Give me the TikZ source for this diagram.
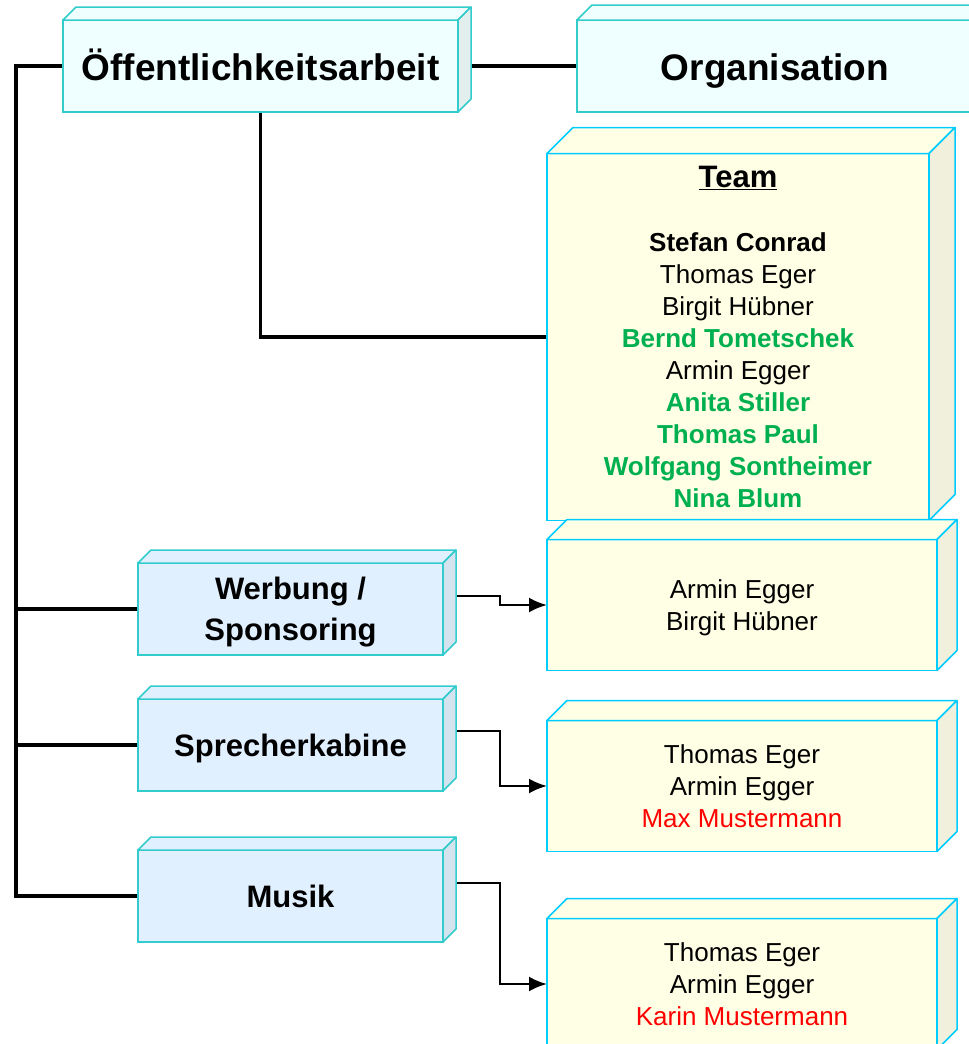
\documentclass[tikz,border=0pt]{standalone}
\usepackage{fontspec}
\setmainfont{Liberation Sans}
\usepackage{tikz}
\usetikzlibrary{arrows.meta, calc, backgrounds}
\definecolor{PaleCyan}{HTML}{EFFFFF}
\definecolor{PaleCyanSide}{HTML}{E3EFEF}
\definecolor{PaleBlue}{HTML}{E1F0FF}
\definecolor{PaleBlueSide}{HTML}{D5E3EF}
\definecolor{PaleCream}{HTML}{FFFFE5}
\definecolor{PaleCreamSide}{HTML}{F0F0DD}
\definecolor{TealEdge}{HTML}{33CCCC}
\definecolor{SkyEdge}{HTML}{00CCFF}
\definecolor{NameGreen}{HTML}{00B050}
\definecolor{NameRed}{HTML}{FF0000}

\begin{document}
\begin{tikzpicture}[
    x=1pt, y=-1pt,
    unit/.style={rectangle, draw=TealEdge, line width=1.5pt, fill=PaleCyan, inner sep=0pt, outer sep=0pt,
                 minimum height=92pt, align=center, font=\fontsize{37}{44}\selectfont\bfseries},
    task/.style={unit, fill=PaleBlue, minimum width=305pt, font=\fontsize{31}{41}\selectfont\bfseries},
    oneline/.style={text height=#1, text depth=6pt},
    people/.style={rectangle, draw=SkyEdge, line width=1.5pt, fill=PaleCream, inner sep=0pt, outer sep=0pt,
                   minimum width=390pt, minimum height=131pt, align=center, font=\fontsize{26}{32}\selectfont},
    link/.style={line width=3.5pt},
    feed/.style={line width=2.5pt, -{Latex[length=18pt,width=15pt]}}
]
    \useasboundingbox (0,0) rectangle (969,1044);
    \clip (0,0) rectangle (969,1044);
    \node[unit, oneline=34pt, minimum width=395pt] (oeff) at (260.5,66) {Öffentlichkeitsarbeit};
    \node[unit, oneline=34pt, minimum width=396pt] (orga) at (775,66) {Organisation};
    \node[people, minimum width=382pt, minimum height=367pt] (team) at (738,337)
        {{\fontsize{31}{37}\selectfont\bfseries\underline{Team}}\\[32pt]
         \textbf{Stefan Conrad}\\ Thomas Eger\\ Birgit Hübner\\
         \textcolor{NameGreen}{\textbf{Bernd Tometschek}}\\ Armin Egger\\
         \textcolor{NameGreen}{\textbf{Anita Stiller}}\\
         \textcolor{NameGreen}{\textbf{Thomas Paul}}\\
         \textcolor{NameGreen}{\textbf{Wolfgang Sontheimer}}\\
         \textcolor{NameGreen}{\textbf{Nina Blum}}};
    \node[task, text depth=-4pt] (werb) at (290.5,609) {Werbung /\\ Sponsoring};
    \node[task, oneline=28pt] (sprech) at (290.5,745) {Sprecherkabine};
    \node[task, oneline=28pt] (musik) at (290.5,896) {Musik};
    \node[people, text depth=0pt] (wname) at (742,605) {Armin Egger\\ Birgit Hübner};
    \node[people] (sname) at (742,786) {Thomas Eger\\ Armin Egger\\ \textcolor{NameRed}{Max Mustermann}};
    \node[people] (mname) at (742,984) {Thomas Eger\\ Armin Egger\\ \textcolor{NameRed}{Karin Mustermann}};

    % depth of the boxes
    \foreach \n/\d/\f/\s/\e in {oeff/13/PaleCyan/PaleCyanSide/TealEdge, orga/15/PaleCyan/PaleCyanSide/TealEdge,
                                team/26/PaleCream/PaleCreamSide/SkyEdge, werb/13/PaleBlue/PaleBlueSide/TealEdge,
                                sprech/13/PaleBlue/PaleBlueSide/TealEdge, musik/13/PaleBlue/PaleBlueSide/TealEdge,
                                wname/20/PaleCream/PaleCreamSide/SkyEdge, sname/20/PaleCream/PaleCreamSide/SkyEdge,
                                mname/20/PaleCream/PaleCreamSide/SkyEdge} {
        \filldraw[fill=\f, draw=\e, line width=1.5pt, line join=round]
            (\n.north west) -- ++(\d,-\d) -- ($(\n.north east)+(\d,-\d)$) -- (\n.north east) -- cycle;
        \filldraw[fill=\s, draw=\e, line width=1.5pt, line join=round]
            (\n.north east) -- ++(\d,-\d) -- ($(\n.south east)+(\d,-\d)$) -- (\n.south east) -- cycle;
    }

    \begin{scope}[on background layer]
        \coordinate (trunk) at (16,66);
        \draw[link] (oeff.west) -- (trunk) |- (musik.west);
        \draw[link] (werb.west) -- (werb.west -| trunk);
        \draw[link] (sprech.west) -- (sprech.west -| trunk);
        \draw[link] (oeff.east) -- (orga.west);
        \draw[link] (oeff.south) |- (team.west);
        \draw[feed] ([yshift=13pt]werb.east) -- ++(57,0) |- (wname.west);
        \draw[feed] ([yshift=14pt]sprech.east) -- ++(57,0) |- (sname.west);
        \draw[feed] ([yshift=13pt]musik.east) -- ++(57,0) |- (mname.west);
    \end{scope}
\end{tikzpicture}
\end{document}
